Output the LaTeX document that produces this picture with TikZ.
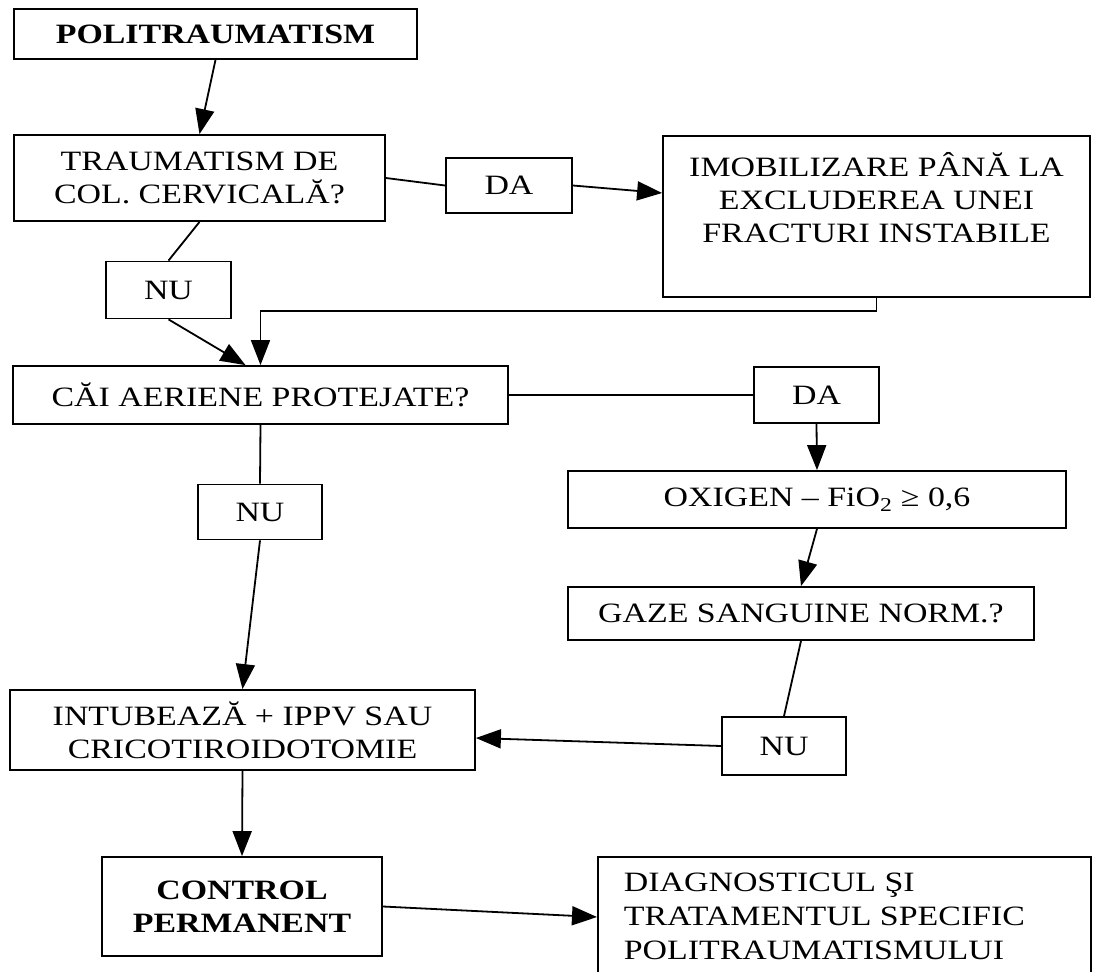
\documentclass[tikz,border=0pt]{standalone}
\usepackage{fontspec}
\setmainfont[FakeStretch=1.21]{Liberation Serif}
\usetikzlibrary{arrows.meta,calc}

\begin{document}
\begin{tikzpicture}[x=1pt,y=-1pt,
    box/.style={draw,line width=1.8pt,inner sep=0pt,align=center,
      font=\fontsize{28}{33}\selectfont},
    boldbox/.style={box,font=\fontsize{28}{33}\selectfont\bfseries},
    link/.style={line width=1.8pt},
    arr/.style={link,-{Triangle[length=25pt,width=19pt]}}]
  \clip (0,0) rectangle (1093,972);
  % left column
  \node[boldbox,minimum width=403pt,minimum height=50pt] (pol) at (215.5,34) {POLITRAUMATISM};
  \node[box,minimum width=371pt,minimum height=86pt] (trauma) at (199.5,178) {TRAUMATISM DE\\COL. CERVICALĂ?};
  \node[box,minimum width=125pt,minimum height=57pt] (nu1) at (168.5,290) {NU};
  \node[box,minimum width=495pt,minimum height=58pt] (cai) at (260.5,395) {CĂI AERIENE PROTEJATE?};
  \node[box,minimum width=124pt,minimum height=55pt] (nu2) at (260,512) {NU};
  \node[box,minimum width=465pt,minimum height=80pt] (intub) at (242.5,730) {INTUBEAZĂ + IPPV SAU\\CRICOTIROIDOTOMIE};
  \node[boldbox,minimum width=280pt,minimum height=99pt] (control) at (242,906.5) {CONTROL\\PERMANENT};
  % right column
  \node[box,minimum width=126pt,minimum height=55pt] (da1) at (509,185.5) {DA};
  \node[box] (imob) at (876.5,216.5) {\parbox[c][161pt][t]{427pt}{\centering\vspace*{16pt}%
    IMOBILIZARE PÂNĂ LA\\EXCLUDEREA UNEI\\FRACTURI INSTABILE}};
  \node[box,minimum width=125pt,minimum height=56pt] (da2) at (816.5,395) {DA};
  \node[box,minimum width=498pt,minimum height=57pt] (oxi) at (817,499.5) {OXIGEN -- FiO\textsubscript{2} ≥ 0,6};
  \node[box,minimum width=466pt,minimum height=53pt] (gaze) at (801,613.5) {GAZE SANGUINE NORM.?};
  \node[box,minimum width=124pt,minimum height=58pt] (nu3) at (784,746) {NU};
  \node[box,anchor=north west] (diag) at (597,856) {\parbox[c][140pt][t]{493pt}{\raggedright\leftskip=26pt\vspace*{16pt}%
    \baselineskip=34pt DIAGNOSTICUL ŞI\\TRATAMENTUL SPECIFIC\\POLITRAUMATISMULUI}};
  \coordinate (hinge) at (260.5,311);
  % connectors
  \draw[arr] (pol.south) -- (trauma.north);
  \draw[link] (trauma.east) -- (da1.west);
  \draw[arr] (da1.east) -- ($(imob.west)+(0,-23.5)$);
  \draw[link] (trauma.south) -- (nu1.north);
  \draw[arr] (nu1.south) -- ($(cai.north)+(-15,0)$);
  \draw[arr] (imob.south) |- (hinge) -- (cai.north);
  \draw[link] (cai.east) -- (da2.west);
  \draw[arr] (da2.south) -- (oxi.north);
  \draw[arr] (oxi.south) -- (gaze.north);
  \draw[link] (gaze.south) -- (nu3.north);
  \draw[arr] (nu3.west) -- ($(intub.east)+(0,8)$);
  \draw[link] (cai.south) -- (nu2.north);
  \draw[arr] (nu2.south) -- (intub.north);
  \draw[arr] (intub.south) -- (control.north);
  \draw[arr] (control.east) -- ($(diag.north west)+(0,61)$);
\end{tikzpicture}
\end{document}
